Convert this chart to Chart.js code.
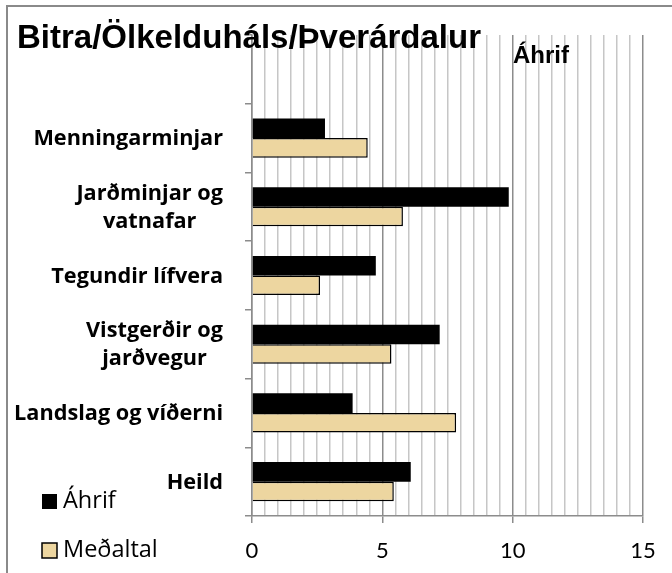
<!DOCTYPE html>
<html>
<head>
<meta charset="utf-8">
<script src="https://cdn.jsdelivr.net/npm/chart.js@4"></script>
<style>
  html, body { margin: 0; padding: 0; overflow: hidden; background: #fff; }
  #wrap { position: absolute; left: 0; top: 0; width: 672px; height: 573px; }
  #frame { position: absolute; left: 6px; top: 5px; width: 720px; height: 620px;
           border: 2px solid #8a8a8a; pointer-events: none; }
</style>
</head>
<body>
<div id="wrap"><canvas id="chart" width="672" height="573"></canvas></div>
<div id="frame"></div>
<script>
// top slot is left empty, like in the original chart
const categories = ['', 'Menningarminjar', ['Jarðminjar og', 'vatnafar'], 'Tegundir lífvera',
    ['Vistgerðir og', 'jarðvegur'], 'Landslag og víðerni', 'Heild'];
const ahrif = [null, 2.8, 9.85, 4.75, 7.2, 3.86, 6.09];
const medaltal = [null, 4.44, 5.79, 2.61, 5.35, 7.83, 5.44];
const xTicks = [0, 5, 10, 15];

const titleText = 'Bitra/Ölkelduháls/Þverárdalur';
const axisTitle = 'Áhrif';

const labelPlugin = {
    id: 'labels',
    afterDraw: function(chart) {
        const ctx = chart.ctx;
        const yScale = chart.scales.y;
        ctx.save();
        ctx.fillStyle = '#000';

        // category labels, multi-line ones centred on their longest line
        ctx.font = 'bold 21.7px "Open Sans"';
        ctx.textBaseline = 'middle';
        ctx.textAlign = 'center';
        const right = 223, lineH = 28;
        chart.data.labels.forEach(function(lab, i) {
            const lines = Array.isArray(lab) ? lab : [lab];
            if (!lines[0]) return;
            const w = Math.max.apply(null, lines.map(function(l) { return ctx.measureText(l).width; }));
            const cx = right - w / 2;
            const cy = yScale.getPixelForValue(i) + 1;
            lines.forEach(function(l, k) {
                ctx.fillText(l, cx, cy + (k - (lines.length - 1) / 2) * lineH);
            });
        });

        // title and axis title
        ctx.textAlign = 'left';
        ctx.textBaseline = 'alphabetic';
        ctx.font = 'bold 33px "Liberation Sans"';
        ctx.fillText(titleText, 17, 48);
        ctx.font = 'bold 24px "Liberation Sans"';
        ctx.fillText(axisTitle, 513, 63);

        // legend
        ctx.font = '23.5px "Open Sans"';
        ctx.textBaseline = 'middle';
        const legY = [501, 550];
        chart.data.datasets.forEach(function(ds, i) {
            const y = legY[i];
            ctx.fillStyle = ds.backgroundColor;
            ctx.fillRect(42, y - 7, 15, 15);
            if (ds.borderWidth) {
                ctx.strokeStyle = ds.borderColor;
                ctx.lineWidth = 1.5;
                ctx.strokeRect(42, y - 7, 15, 15);
            }
            ctx.fillStyle = '#000';
            ctx.fillText(ds.label, 63, y);
        });
        ctx.restore();
    }
};

new Chart(document.getElementById('chart'), {
    type: 'bar',
    data: {
        labels: categories,
        datasets: [{
            label: 'Áhrif',
            data: ahrif,
            backgroundColor: '#000000',
            borderColor: '#000000',
            borderWidth: 0,
            categoryPercentage: 0.57,
            barPercentage: 1.0
        }, {
            label: 'Meðaltal',
            data: medaltal,
            backgroundColor: '#EDD6A0',
            borderColor: '#000000',
            borderWidth: 1.5,
            categoryPercentage: 0.57,
            barPercentage: 1.0
        }]
    },
    options: {
        indexAxis: 'y',
        responsive: false,
        animation: false,
        layout: { padding: { left: 0, top: 35, right: 29, bottom: 0 } },
        plugins: {
            legend: { display: false },
            tooltip: { enabled: false }
        },
        scales: {
            x: {
                min: 0,
                max: 15,
                afterFit: function(scale) { scale.height = 57; },
                ticks: {
                    stepSize: 0.5,
                    autoSkip: false,
                    maxRotation: 0,
                    padding: 15,
                    color: '#000',
                    font: { family: 'Lato', size: 22 },
                    callback: function(v) { return xTicks.indexOf(v) >= 0 ? v : ''; }
                },
                grid: {
                    color: function(c) { return c.tick && c.tick.value % 5 === 0 ? '#8c8c8c' : '#c6c6c6'; },
                    tickColor: function(c) { return c.tick && c.tick.value % 5 === 0 ? '#8c8c8c' : 'rgba(0,0,0,0)'; },
                    lineWidth: 1.5,
                    tickLength: 7
                },
                border: { color: '#8c8c8c', width: 1.5 }
            },
            y: {
                offset: true,
                afterFit: function(scale) { scale.width = 252; },
                ticks: { display: false },
                grid: {
                    offset: true,
                    drawOnChartArea: false,
                    color: '#8c8c8c',
                    lineWidth: 1.5,
                    tickLength: 7
                },
                border: { color: '#8c8c8c', width: 1.5 }
            }
        }
    },
    plugins: [labelPlugin]
});
</script>
</body>
</html>
